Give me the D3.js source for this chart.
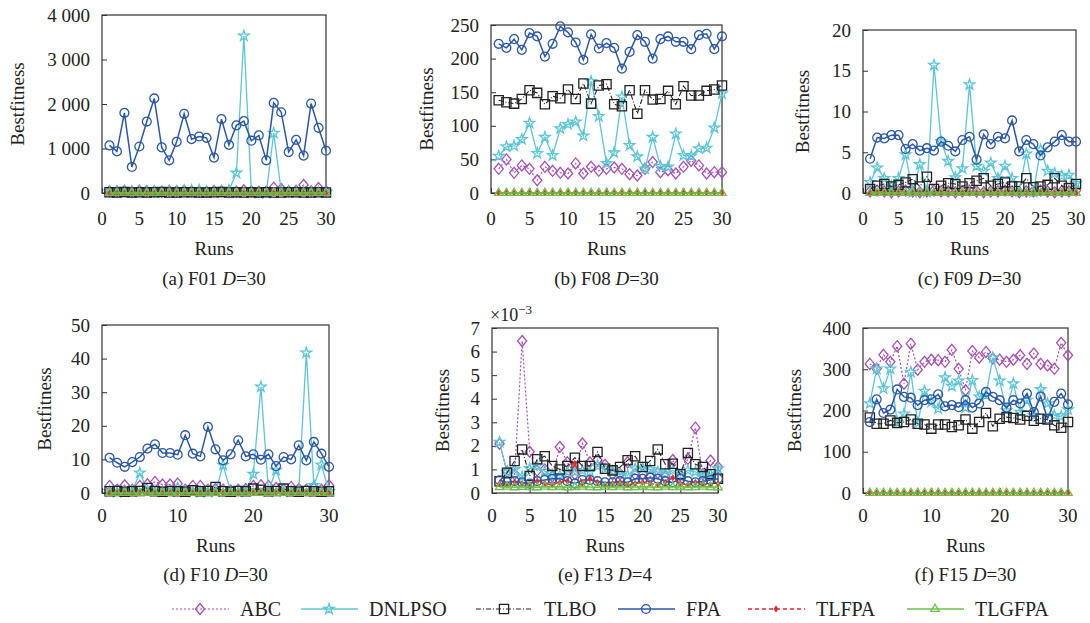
<!DOCTYPE html>
<html>
<head>
<meta charset="utf-8">
<script src="https://cdn.jsdelivr.net/npm/d3@7"></script>
<style>
  body { margin: 0; background: #fff; }
  svg text { font-family: "Liberation Serif", "Times New Roman", serif; fill: #222; }
</style>
</head>
<body>
<svg id="chart" width="1090" height="623" font-family="Liberation Serif, Times New Roman, serif"></svg>
<script>
// runs 1..30
var runs = d3.range(1, 31);
var algos = ["ABC", "DNLPSO", "TLBO", "FPA", "TLFPA", "TLGFPA"];

// (a) F01 D=30
var a_ABC = [40,35,45,30,50,40,35,30,45,40,50,40,35,30,45,40,35,30,60,40,30,35,120,90,40,50,180,40,110,40];
var a_DNLPSO = [30,20,40,25,45,30,35,20,40,30,50,60,70,30,25,40,60,450,3530,20,0,0,1345,40,30,20,35,25,30,20];
var a_TLBO = [15,10,20,12,18,10,15,20,12,10,15,18,12,10,15,20,12,15,10,18,12,15,10,12,18,15,10,12,15,10];
var a_FPA = [1070,935,1800,585,1045,1605,2125,1025,735,1150,1780,1210,1270,1240,795,1660,1080,1520,1615,1175,1295,735,2025,1815,920,1195,840,2010,1465,950];
var a_TLFPA = [0,0,0,0,0,0,0,0,0,0,0,0,0,0,0,0,0,0,0,0,0,0,0,0,0,0,0,0,0,0];
var a_TLGFPA = [0,0,0,0,0,0,0,0,0,0,0,0,0,0,0,0,0,0,0,0,0,0,0,0,0,0,0,0,0,0];

// (b) F08 D=30
var b_ABC = [36,50,30,41,36,19,39,33,30,29,44,29,39,33,36,38,36,28,26,36,46,31,34,29,39,48,41,29,31,31];
var b_DNLPSO = [55,69,70,80,104,59,83,56,96,102,106,85,166,114,44,60,143,71,54,36,83,40,39,88,56,55,66,67,97,148];
var b_TLBO = [138,135,133,140,153,149,132,144,141,154,140,163,133,160,162,132,129,153,118,153,139,140,152,132,159,145,145,152,154,160];
var b_FPA = [222,216,229,213,238,233,203,222,248,239,224,198,236,215,223,216,185,210,235,225,200,229,233,225,225,214,235,237,214,233];
var b_TLFPA = [0,0,0,0,0,0,0,0,0,0,0,0,0,0,0,0,0,0,0,0,0,0,0,0,0,0,0,0,0,0];
var b_TLGFPA = [0,0,0,0,0,0,0,0,0,0,0,0,0,0,0,0,0,0,0,0,0,0,0,0,0,0,0,0,0,0];

// (c) F09 D=30
var c_ABC = [0.2,0.3,0.2,0.1,0.2,0.3,0.2,0.1,0.2,0.3,0.2,0.2,0.1,0.2,0.3,0.2,0.1,0.2,0.2,0.3,0.2,0.1,0.2,0.2,0.3,0.2,0.1,0.2,0.2,0.3];
var c_DNLPSO = [1.3,3.1,1.8,0.8,1.8,4.7,0.1,3.5,0.1,15.7,6.3,3.9,1.9,3.0,13.3,3.3,2.7,3.7,1.8,3.3,1.8,0.2,4.8,0.1,5.3,2.7,2.4,2.1,2.2,1.2];
var c_TLBO = [0.5,0.9,1.1,0.8,1.0,1.3,1.7,0.8,2.0,0.5,0.9,1.2,1.1,0.8,1.2,1.5,1.8,0.9,1.1,1.3,0.8,0.8,1.8,0.7,0.8,1.0,1.8,0.9,0.6,1.1];
var c_FPA = [4.2,6.8,6.7,7.1,7.1,5.4,6.0,5.2,5.5,5.2,6.3,5.8,5.1,6.5,6.9,4.1,7.2,6.0,6.9,6.7,8.9,5.1,6.5,6.0,4.6,5.6,6.3,7.1,6.3,6.3];
var c_TLFPA = [0,0,0,0,0,0,0,0,0,0,0,0,0,0,0,0,0,0,0,0,0,0,0,0,0,0,0,0,0,0];
var c_TLGFPA = [0,0,0,0,0,0,0,0,0,0,0,0,0,0,0,0,0,0,0,0,0,0,0,0,0,0,0,0,0,0];

// (d) F10 D=30
var d_ABC = [2.1,1.0,2.3,1.0,2.1,2.6,3.3,2.5,2.5,2.8,1.0,2.1,2.1,1.0,1.2,1.0,0.8,1.0,1.2,2.1,2.3,2.1,1.5,1.0,1.8,1.2,1.0,1.5,1.0,2.3];
var d_DNLPSO = [0.5,0.3,0.4,0.5,6.0,0.8,0.5,0.4,0.6,1.5,0.4,0.5,0.3,0.5,0.4,8.3,0.5,0.4,0.6,5.6,31.6,0.5,6.8,0.4,0.5,0.6,41.7,2.3,8.4,0.5];
var d_TLBO = [0.5,0.6,0.4,0.5,0.6,1.5,0.5,0.4,0.6,0.5,0.4,0.8,0.5,0.6,1.8,0.5,0.4,0.6,0.5,1.3,1.0,0.5,0.6,1.3,0.5,0.4,0.6,0.5,0.4,0.5];
var d_FPA = [10.5,9.0,7.8,9.2,10.7,13.2,14.5,11.9,11.9,11.4,17.2,11.7,10.9,19.7,13.0,9.7,11.5,15.7,10.9,11.5,9.9,11.5,8.0,10.7,10.0,14.2,9.7,15.2,11.7,7.8];
var d_TLFPA = [0,0,0,0,0,0,0,0,0,0,0,0,0,0,0,0,0,0,0,0,0,0,0,0,0,0,0,0,0,0];
var d_TLGFPA = [0,0,0,0,0,0,0,0,0,0,0,0,0,0,0,0,0,0,0,0,0,0,0,0,0,0,0,0,0,0];

// (e) F13 D=4, values in units of 1e-3
var e_ABC = [2.09,0.9,0.8,6.45,1.75,0.95,1.0,0.7,1.95,1.3,0.8,2.1,1.3,1.4,1.2,0.8,0.8,1.3,0.8,0.8,0.7,0.85,0.7,1.4,0.75,1.45,2.77,0.8,1.38,1.1];
var e_DNLPSO = [2.16,0.9,1.0,0.7,1.03,1.15,0.92,0.75,0.75,0.9,0.9,0.96,0.9,1.15,1.03,0.93,0.82,0.75,1.03,1.06,1.0,0.9,0.82,0.96,0.75,0.96,0.9,0.75,0.8,1.03];
var e_TLBO = [0.5,0.86,1.36,1.85,0.72,1.43,1.56,1.15,1.0,1.15,1.5,1.15,1.15,1.74,1.03,0.96,1.1,1.39,1.56,1.1,1.36,1.85,1.22,1.24,0.8,1.7,1.22,1.1,0.8,0.6];
var e_FPA = [0.54,0.45,0.5,0.45,0.4,0.5,0.55,0.6,0.6,0.5,0.4,0.55,0.55,0.5,0.45,0.45,0.5,0.45,0.6,0.6,0.65,0.6,0.5,0.45,0.6,0.5,0.45,0.5,0.55,0.6];
var e_TLFPA = [0.4,0.35,0.45,0.4,0.35,0.5,0.4,0.35,0.45,0.5,1.25,0.4,0.6,0.45,0.35,0.4,0.45,0.35,0.4,0.45,0.4,0.35,0.45,0.65,0.4,0.35,0.45,0.4,0.35,0.4];
var e_TLGFPA = [0.25,0.27,0.24,0.26,0.25,0.24,0.27,0.25,0.26,0.24,0.25,0.27,0.25,0.24,0.26,0.25,0.27,0.24,0.25,0.26,0.25,0.24,0.27,0.25,0.26,0.24,0.25,0.27,0.25,0.24];

// (f) F15 D=30
var f_ABC = [313,301,335,318,356,265,362,299,318,323,322,318,347,301,249,344,328,342,326,323,318,323,334,313,338,313,309,301,364,334];
var f_DNLPSO = [217,301,253,301,172,192,293,170,247,221,204,280,259,272,207,273,233,237,328,272,200,265,196,225,188,251,217,188,186,202];
var f_TLBO = [183,168,168,176,170,172,178,168,166,156,166,166,160,164,178,156,172,194,162,180,184,182,178,187,175,180,178,164,158,172];
var f_FPA = [172,227,194,202,251,233,231,213,225,227,239,210,213,208,225,207,217,245,233,225,207,225,217,241,196,234,180,221,241,215];
var f_TLFPA = [0,0,0,0,0,0,0,0,0,0,0,0,0,0,0,0,0,0,0,0,0,0,0,0,0,0,0,0,0,0];
var f_TLGFPA = [0,0,0,0,0,0,0,0,0,0,0,0,0,0,0,0,0,0,0,0,0,0,0,0,0,0,0,0,0,0];

var yMaxes = [4000, 250, 20, 50, 7, 400];
var yTickSteps = [1000, 50, 5, 10, 1, 100];
var xTickSteps = [5, 5, 5, 10, 5, 10];
var captions = ["(a) F01 |D|=30", "(b) F08 |D|=30", "(c) F09 |D|=30", "(d) F10 |D|=30", "(e) F13 |D|=4", "(f) F15 |D|=30"];

var FONT = "Liberation Serif, Times New Roman, serif";
var svg = d3.select("#chart");

var styles = {
  ABC:    { color: "#a84fb4", dash: "2,2",     width: 1.2, marker: "diamond" },
  DNLPSO: { color: "#5cc6d6", dash: null,      width: 1.3, marker: "star" },
  TLBO:   { color: "#222222", dash: "5,2,1,2", width: 1.1, marker: "square" },
  FPA:    { color: "#2a58a8", dash: null,      width: 1.5, marker: "circle" },
  TLFPA:  { color: "#e8262c", dash: "4,3",     width: 1.3, marker: "dot" },
  TLGFPA: { color: "#6cc04a", dash: null,      width: 1.5, marker: "triangle" }
};

var panels = [
  { series: [a_ABC, a_DNLPSO, a_TLBO, a_FPA, a_TLFPA, a_TLGFPA], box: [102, 326, 15, 193], ylab: 18 },
  { series: [b_ABC, b_DNLPSO, b_TLBO, b_FPA, b_TLFPA, b_TLGFPA], box: [491, 722, 25, 193], ylab: 427 },
  { series: [c_ABC, c_DNLPSO, c_TLBO, c_FPA, c_TLFPA, c_TLGFPA], box: [863, 1076, 30, 193], ylab: 803 },
  { series: [d_ABC, d_DNLPSO, d_TLBO, d_FPA, d_TLFPA, d_TLGFPA], box: [102, 329, 325, 493], ylab: 45 },
  { series: [e_ABC, e_DNLPSO, e_TLBO, e_FPA, e_TLFPA, e_TLGFPA], box: [492, 718, 328, 493], ylab: 443 },
  { series: [f_ABC, f_DNLPSO, f_TLBO, f_FPA, f_TLFPA, f_TLGFPA], box: [863, 1068, 328, 493], ylab: 795 }
];

var spaced = d3.formatLocale({ decimal: ".", thousands: " ", grouping: [3], currency: ["", ""] }).format(",");

function markerPath(kind) {
  if (kind === "diamond") return "M0,-5.5L4.6,0L0,5.5L-4.6,0Z";
  if (kind === "dot") return "M0,-3L2,0L0,3L-2,0Z";
  if (kind === "star") return d3.symbol(d3.symbolStar, 34)();
  if (kind === "square") return d3.symbol(d3.symbolSquare, 85)();
  if (kind === "circle") return d3.symbol(d3.symbolCircle, 62)();
  return d3.symbol(d3.symbolTriangle, 30)();
}

function drawMarker(g, kind, color, x, y) {
  g.append("path")
    .attr("d", markerPath(kind))
    .attr("transform", "translate(" + x + "," + y + ")")
    .attr("fill", kind === "dot" ? color : "none")
    .attr("stroke", color)
    .attr("stroke-width", kind === "dot" ? 0.8 : 1.3);
}

function txt(g) {
  return g.append("text").attr("font-family", FONT).attr("font-size", 19).attr("fill", "#222");
}

panels.forEach(function (p, i) {
  var l = p.box[0], r = p.box[1], t = p.box[2], b = p.box[3];
  var x = d3.scaleLinear().domain([0, 30]).range([l, r]);
  var y = d3.scaleLinear().domain([0, yMaxes[i]]).range([b, t]);
  var g = svg.append("g");
  var top = i < 3;
  var yT = d3.range(0, yMaxes[i] + 0.001, yTickSteps[i]);
  var xT = d3.range(0, 31, xTickSteps[i]);

  // frame
  g.append("rect").attr("x", l).attr("y", t).attr("width", r - l).attr("height", b - t)
    .attr("fill", "none").attr("stroke", "#333").attr("stroke-width", 1.2);

  // y axis (inward ticks)
  g.append("g").attr("transform", "translate(" + l + ",0)")
    .call(d3.axisRight(y).tickValues(yT).tickSize(5).tickFormat(""))
    .call(function (s) { s.select(".domain").remove(); s.selectAll("line").attr("stroke", "#333"); });
  yT.forEach(function (d) {
    txt(g).attr("x", l - 12).attr("y", y(d) + 6.5).attr("text-anchor", "end")
      .text(i === 0 ? spaced(d) : d);
  });

  // x axis (inward ticks)
  g.append("g").attr("transform", "translate(0," + b + ")")
    .call(d3.axisTop(x).tickValues(xT).tickSize(5).tickFormat(""))
    .call(function (s) { s.select(".domain").remove(); s.selectAll("line").attr("stroke", "#333"); });
  xT.forEach(function (d) {
    txt(g).attr("x", x(d)).attr("y", top ? 225 : 522).attr("text-anchor", "middle").text(d);
  });

  // titles
  var cx = (l + r) / 2;
  txt(g).attr("x", cx).attr("y", top ? 255 : 552).attr("text-anchor", "middle").text("Runs");
  var parts = captions[i].split("|");
  var cap = txt(g).attr("x", cx).attr("y", top ? 285 : 581).attr("text-anchor", "middle");
  cap.append("tspan").text(parts[0]);
  cap.append("tspan").attr("font-style", "italic").text(parts[1]);
  cap.append("tspan").text(parts[2]);
  txt(g).attr("transform", "translate(" + (p.ylab + 6) + "," + ((t + b) / 2) + ") rotate(-90)")
    .attr("text-anchor", "middle").text("Bestfitness");

  if (i === 4) {
    var ex = txt(g).attr("x", l - 2).attr("y", t - 7).attr("font-size", 18);
    ex.append("tspan").text("×10");
    ex.append("tspan").attr("dy", -7).attr("font-size", 13).text("−3");
  }

  // series
  var line = d3.line().x(function (d, k) { return x(runs[k]); }).y(function (d) { return y(d); });
  p.series.forEach(function (vals, si) {
    var st = styles[algos[si]];
    var sg = g.append("g");
    sg.append("path").attr("d", line(vals)).attr("fill", "none")
      .attr("stroke", st.color).attr("stroke-width", st.width)
      .attr("stroke-dasharray", st.dash);
    vals.forEach(function (v, k) { drawMarker(sg, st.marker, st.color, x(runs[k]), y(v)); });
  });
});

// legend
var legX = [172, 301, 476, 618, 748, 907];
var legY = 609;
algos.forEach(function (name, i) {
  var st = styles[name];
  var g = svg.append("g");
  g.append("line").attr("x1", legX[i]).attr("x2", legX[i] + 57).attr("y1", legY).attr("y2", legY)
    .attr("stroke", st.color).attr("stroke-width", st.width).attr("stroke-dasharray", st.dash);
  drawMarker(g, st.marker, st.color, legX[i] + 28, legY);
  txt(g).attr("x", legX[i] + 68).attr("y", legY + 6.5).attr("font-size", 20).text(name);
});
</script>
</body>
</html>
